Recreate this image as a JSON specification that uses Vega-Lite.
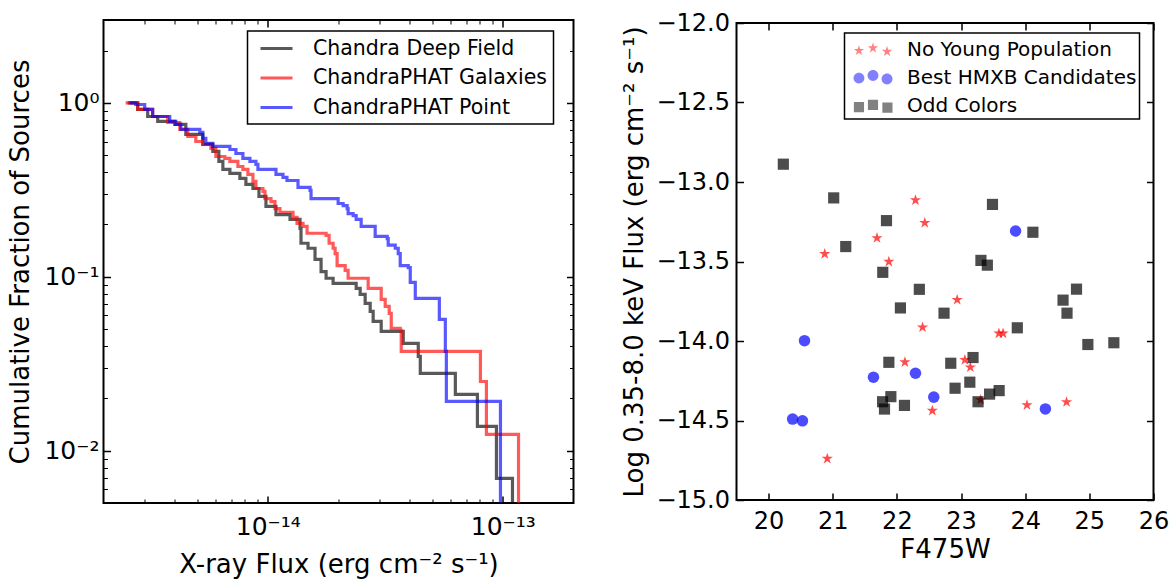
{
  "$schema": "https://vega.github.io/schema/vega-lite/v6.json",
  "background": "white",
  "padding": {"left": 5.5, "top": 10, "right": 4, "bottom": 2},
  "config": {
    "font": "DejaVu Sans",
    "view": {"stroke": "black", "strokeWidth": 2},
    "axis": {
      "domain": false, "grid": false,
      "labelColor": "black", "titleColor": "black", "tickColor": "black",
      "labelFontSize": 24, "titleFontSize": 26, "titleFontWeight": "normal",
      "tickWidth": 1.5, "labelFlush": false, "labelOverlap": false,
      "labelFont": "DejaVu Sans", "titleFont": "DejaVu Sans"
    },
    "legend": {
      "strokeColor": "black", "strokeWidth": 1.5, "fillColor": "white",
      "labelFontSize": 20.5, "labelColor": "black", "labelLimit": 500,
      "labelFont": "DejaVu Sans", "cornerRadius": 0
    }
  },
  "bounds": "flush",
  "spacing": 163,
  "center": true,
  "resolve": {
    "scale": {"color": "independent", "shape": "independent", "size": "independent"},
    "legend": {"color": "independent", "shape": "independent", "size": "independent"}
  },
  "datasets": {
    "curves": [
      {"sample": "Chandra Deep Field", "flux": 2.534e-15, "frac": 1.0},
      {"sample": "Chandra Deep Field", "flux": 2.796e-15, "frac": 0.918},
      {"sample": "Chandra Deep Field", "flux": 3.084e-15, "frac": 0.836},
      {"sample": "Chandra Deep Field", "flux": 3.402e-15, "frac": 0.783},
      {"sample": "Chandra Deep Field", "flux": 4.020e-15, "frac": 0.752},
      {"sample": "Chandra Deep Field", "flux": 4.480e-15, "frac": 0.659},
      {"sample": "Chandra Deep Field", "flux": 5.293e-15, "frac": 0.577},
      {"sample": "Chandra Deep Field", "flux": 5.839e-15, "frac": 0.526},
      {"sample": "Chandra Deep Field", "flux": 6.194e-15, "frac": 0.461},
      {"sample": "Chandra Deep Field", "flux": 6.442e-15, "frac": 0.415},
      {"sample": "Chandra Deep Field", "flux": 6.900e-15, "frac": 0.393},
      {"sample": "Chandra Deep Field", "flux": 7.610e-15, "frac": 0.368},
      {"sample": "Chandra Deep Field", "flux": 8.072e-15, "frac": 0.340},
      {"sample": "Chandra Deep Field", "flux": 8.648e-15, "frac": 0.322},
      {"sample": "Chandra Deep Field", "flux": 9.173e-15, "frac": 0.290},
      {"sample": "Chandra Deep Field", "flux": 9.825e-15, "frac": 0.254},
      {"sample": "Chandra Deep Field", "flux": 1.084e-14, "frac": 0.228},
      {"sample": "Chandra Deep Field", "flux": 1.244e-14, "frac": 0.214},
      {"sample": "Chandra Deep Field", "flux": 1.372e-14, "frac": 0.190},
      {"sample": "Chandra Deep Field", "flux": 1.385e-14, "frac": 0.156},
      {"sample": "Chandra Deep Field", "flux": 1.484e-14, "frac": 0.146},
      {"sample": "Chandra Deep Field", "flux": 1.589e-14, "frac": 0.126},
      {"sample": "Chandra Deep Field", "flux": 1.686e-14, "frac": 0.107},
      {"sample": "Chandra Deep Field", "flux": 1.771e-14, "frac": 0.0981},
      {"sample": "Chandra Deep Field", "flux": 1.897e-14, "frac": 0.0916},
      {"sample": "Chandra Deep Field", "flux": 2.378e-14, "frac": 0.0858},
      {"sample": "Chandra Deep Field", "flux": 2.473e-14, "frac": 0.0792},
      {"sample": "Chandra Deep Field", "flux": 2.597e-14, "frac": 0.0703},
      {"sample": "Chandra Deep Field", "flux": 2.728e-14, "frac": 0.0632},
      {"sample": "Chandra Deep Field", "flux": 2.809e-14, "frac": 0.0554},
      {"sample": "Chandra Deep Field", "flux": 3.039e-14, "frac": 0.0485},
      {"sample": "Chandra Deep Field", "flux": 3.772e-14, "frac": 0.0414},
      {"sample": "Chandra Deep Field", "flux": 4.370e-14, "frac": 0.0349},
      {"sample": "Chandra Deep Field", "flux": 4.457e-14, "frac": 0.0278},
      {"sample": "Chandra Deep Field", "flux": 6.284e-14, "frac": 0.0211},
      {"sample": "Chandra Deep Field", "flux": 7.801e-14, "frac": 0.0138},
      {"sample": "Chandra Deep Field", "flux": 9.400e-14, "frac": 0.00693},
      {"sample": "Chandra Deep Field", "flux": 1.100e-13, "frac": 0.004},
      {"sample": "ChandraPHAT Galaxies", "flux": 2.485e-15, "frac": 1.0},
      {"sample": "ChandraPHAT Galaxies", "flux": 2.796e-15, "frac": 0.918},
      {"sample": "ChandraPHAT Galaxies", "flux": 3.238e-15, "frac": 0.836},
      {"sample": "ChandraPHAT Galaxies", "flux": 3.753e-15, "frac": 0.772},
      {"sample": "ChandraPHAT Galaxies", "flux": 4.224e-15, "frac": 0.704},
      {"sample": "ChandraPHAT Galaxies", "flux": 4.568e-15, "frac": 0.642},
      {"sample": "ChandraPHAT Galaxies", "flux": 4.941e-15, "frac": 0.600},
      {"sample": "ChandraPHAT Galaxies", "flux": 5.293e-15, "frac": 0.577},
      {"sample": "ChandraPHAT Galaxies", "flux": 5.726e-15, "frac": 0.548},
      {"sample": "ChandraPHAT Galaxies", "flux": 6.014e-15, "frac": 0.492},
      {"sample": "ChandraPHAT Galaxies", "flux": 6.569e-15, "frac": 0.480},
      {"sample": "ChandraPHAT Galaxies", "flux": 6.900e-15, "frac": 0.461},
      {"sample": "ChandraPHAT Galaxies", "flux": 7.462e-15, "frac": 0.431},
      {"sample": "ChandraPHAT Galaxies", "flux": 7.837e-15, "frac": 0.415},
      {"sample": "ChandraPHAT Galaxies", "flux": 8.233e-15, "frac": 0.388},
      {"sample": "ChandraPHAT Galaxies", "flux": 8.648e-15, "frac": 0.354},
      {"sample": "ChandraPHAT Galaxies", "flux": 8.905e-15, "frac": 0.322},
      {"sample": "ChandraPHAT Galaxies", "flux": 9.539e-15, "frac": 0.310},
      {"sample": "ChandraPHAT Galaxies", "flux": 9.730e-15, "frac": 0.282},
      {"sample": "ChandraPHAT Galaxies", "flux": 1.032e-14, "frac": 0.271},
      {"sample": "ChandraPHAT Galaxies", "flux": 1.073e-14, "frac": 0.247},
      {"sample": "ChandraPHAT Galaxies", "flux": 1.127e-14, "frac": 0.235},
      {"sample": "ChandraPHAT Galaxies", "flux": 1.281e-14, "frac": 0.220},
      {"sample": "ChandraPHAT Galaxies", "flux": 1.332e-14, "frac": 0.203},
      {"sample": "ChandraPHAT Galaxies", "flux": 1.413e-14, "frac": 0.195},
      {"sample": "ChandraPHAT Galaxies", "flux": 1.470e-14, "frac": 0.178},
      {"sample": "ChandraPHAT Galaxies", "flux": 1.771e-14, "frac": 0.173},
      {"sample": "ChandraPHAT Galaxies", "flux": 1.824e-14, "frac": 0.156},
      {"sample": "ChandraPHAT Galaxies", "flux": 1.897e-14, "frac": 0.146},
      {"sample": "ChandraPHAT Galaxies", "flux": 1.935e-14, "frac": 0.136},
      {"sample": "ChandraPHAT Galaxies", "flux": 1.973e-14, "frac": 0.116},
      {"sample": "ChandraPHAT Galaxies", "flux": 2.135e-14, "frac": 0.109},
      {"sample": "ChandraPHAT Galaxies", "flux": 2.198e-14, "frac": 0.0981},
      {"sample": "ChandraPHAT Galaxies", "flux": 2.675e-14, "frac": 0.0858},
      {"sample": "ChandraPHAT Galaxies", "flux": 3.039e-14, "frac": 0.0741},
      {"sample": "ChandraPHAT Galaxies", "flux": 3.161e-14, "frac": 0.0676},
      {"sample": "ChandraPHAT Galaxies", "flux": 3.287e-14, "frac": 0.0616},
      {"sample": "ChandraPHAT Galaxies", "flux": 3.353e-14, "frac": 0.0505},
      {"sample": "ChandraPHAT Galaxies", "flux": 3.662e-14, "frac": 0.0492},
      {"sample": "ChandraPHAT Galaxies", "flux": 3.698e-14, "frac": 0.0372},
      {"sample": "ChandraPHAT Galaxies", "flux": 8.034e-14, "frac": 0.0250},
      {"sample": "ChandraPHAT Galaxies", "flux": 8.520e-14, "frac": 0.0124},
      {"sample": "ChandraPHAT Galaxies", "flux": 1.167e-13, "frac": 0.004},
      {"sample": "ChandraPHAT Point", "flux": 2.585e-15, "frac": 1.0},
      {"sample": "ChandraPHAT Point", "flux": 2.742e-15, "frac": 0.980},
      {"sample": "ChandraPHAT Point", "flux": 2.995e-15, "frac": 0.918},
      {"sample": "ChandraPHAT Point", "flux": 3.238e-15, "frac": 0.836},
      {"sample": "ChandraPHAT Point", "flux": 3.827e-15, "frac": 0.783},
      {"sample": "ChandraPHAT Point", "flux": 4.060e-15, "frac": 0.752},
      {"sample": "ChandraPHAT Point", "flux": 4.266e-15, "frac": 0.704},
      {"sample": "ChandraPHAT Point", "flux": 5.140e-15, "frac": 0.677},
      {"sample": "ChandraPHAT Point", "flux": 5.293e-15, "frac": 0.625},
      {"sample": "ChandraPHAT Point", "flux": 5.452e-15, "frac": 0.585},
      {"sample": "ChandraPHAT Point", "flux": 5.839e-15, "frac": 0.562},
      {"sample": "ChandraPHAT Point", "flux": 6.900e-15, "frac": 0.540},
      {"sample": "ChandraPHAT Point", "flux": 7.318e-15, "frac": 0.512},
      {"sample": "ChandraPHAT Point", "flux": 7.837e-15, "frac": 0.480},
      {"sample": "ChandraPHAT Point", "flux": 8.397e-15, "frac": 0.461},
      {"sample": "ChandraPHAT Point", "flux": 8.905e-15, "frac": 0.443},
      {"sample": "ChandraPHAT Point", "flux": 9.082e-15, "frac": 0.415},
      {"sample": "ChandraPHAT Point", "flux": 1.084e-14, "frac": 0.388},
      {"sample": "ChandraPHAT Point", "flux": 1.161e-14, "frac": 0.373},
      {"sample": "ChandraPHAT Point", "flux": 1.207e-14, "frac": 0.358},
      {"sample": "ChandraPHAT Point", "flux": 1.345e-14, "frac": 0.327},
      {"sample": "ChandraPHAT Point", "flux": 1.514e-14, "frac": 0.314},
      {"sample": "ChandraPHAT Point", "flux": 1.528e-14, "frac": 0.282},
      {"sample": "ChandraPHAT Point", "flux": 1.993e-14, "frac": 0.264},
      {"sample": "ChandraPHAT Point", "flux": 2.093e-14, "frac": 0.257},
      {"sample": "ChandraPHAT Point", "flux": 2.177e-14, "frac": 0.247},
      {"sample": "ChandraPHAT Point", "flux": 2.198e-14, "frac": 0.231},
      {"sample": "ChandraPHAT Point", "flux": 2.309e-14, "frac": 0.225},
      {"sample": "ChandraPHAT Point", "flux": 2.378e-14, "frac": 0.214},
      {"sample": "ChandraPHAT Point", "flux": 2.497e-14, "frac": 0.195},
      {"sample": "ChandraPHAT Point", "flux": 2.865e-14, "frac": 0.171},
      {"sample": "ChandraPHAT Point", "flux": 3.223e-14, "frac": 0.166},
      {"sample": "ChandraPHAT Point", "flux": 3.255e-14, "frac": 0.152},
      {"sample": "ChandraPHAT Point", "flux": 3.487e-14, "frac": 0.146},
      {"sample": "ChandraPHAT Point", "flux": 3.591e-14, "frac": 0.136},
      {"sample": "ChandraPHAT Point", "flux": 3.662e-14, "frac": 0.116},
      {"sample": "ChandraPHAT Point", "flux": 3.962e-14, "frac": 0.113},
      {"sample": "ChandraPHAT Point", "flux": 4.040e-14, "frac": 0.0929},
      {"sample": "ChandraPHAT Point", "flux": 4.244e-14, "frac": 0.0751},
      {"sample": "ChandraPHAT Point", "flux": 5.372e-14, "frac": 0.0569},
      {"sample": "ChandraPHAT Point", "flux": 5.697e-14, "frac": 0.0372},
      {"sample": "ChandraPHAT Point", "flux": 5.754e-14, "frac": 0.0192},
      {"sample": "ChandraPHAT Point", "flux": 9.777e-14, "frac": 0.004}
    ],
    "points": [
      {"group": "No Young Population", "mag": 22.29, "logflux": -13.114},
      {"group": "No Young Population", "mag": 22.435, "logflux": -13.257},
      {"group": "No Young Population", "mag": 21.69, "logflux": -13.352},
      {"group": "No Young Population", "mag": 20.875, "logflux": -13.452},
      {"group": "No Young Population", "mag": 21.875, "logflux": -13.501},
      {"group": "No Young Population", "mag": 22.94, "logflux": -13.741},
      {"group": "No Young Population", "mag": 22.40, "logflux": -13.914},
      {"group": "No Young Population", "mag": 23.59, "logflux": -13.952},
      {"group": "No Young Population", "mag": 23.655, "logflux": -13.952},
      {"group": "No Young Population", "mag": 22.125, "logflux": -14.133},
      {"group": "No Young Population", "mag": 23.06, "logflux": -14.119},
      {"group": "No Young Population", "mag": 23.145, "logflux": -14.165},
      {"group": "No Young Population", "mag": 23.305, "logflux": -14.37},
      {"group": "No Young Population", "mag": 22.553, "logflux": -14.438},
      {"group": "No Young Population", "mag": 24.028, "logflux": -14.403},
      {"group": "No Young Population", "mag": 24.645, "logflux": -14.384},
      {"group": "No Young Population", "mag": 20.915, "logflux": -14.74},
      {"group": "Best HMXB Candidates", "mag": 23.85, "logflux": -13.308},
      {"group": "Best HMXB Candidates", "mag": 20.56, "logflux": -13.998},
      {"group": "Best HMXB Candidates", "mag": 21.635, "logflux": -14.228},
      {"group": "Best HMXB Candidates", "mag": 22.29, "logflux": -14.203},
      {"group": "Best HMXB Candidates", "mag": 22.575, "logflux": -14.353},
      {"group": "Best HMXB Candidates", "mag": 20.375, "logflux": -14.491},
      {"group": "Best HMXB Candidates", "mag": 20.528, "logflux": -14.502},
      {"group": "Best HMXB Candidates", "mag": 24.315, "logflux": -14.427},
      {"group": "Odd Colors", "mag": 20.23, "logflux": -12.888},
      {"group": "Odd Colors", "mag": 21.015, "logflux": -13.1},
      {"group": "Odd Colors", "mag": 21.203, "logflux": -13.406},
      {"group": "Odd Colors", "mag": 21.838, "logflux": -13.243},
      {"group": "Odd Colors", "mag": 21.78, "logflux": -13.568},
      {"group": "Odd Colors", "mag": 22.35, "logflux": -13.675},
      {"group": "Odd Colors", "mag": 22.055, "logflux": -13.792},
      {"group": "Odd Colors", "mag": 22.735, "logflux": -13.825},
      {"group": "Odd Colors", "mag": 23.49, "logflux": -13.141},
      {"group": "Odd Colors", "mag": 24.12, "logflux": -13.316},
      {"group": "Odd Colors", "mag": 23.31, "logflux": -13.493},
      {"group": "Odd Colors", "mag": 23.41, "logflux": -13.523},
      {"group": "Odd Colors", "mag": 24.59, "logflux": -13.743},
      {"group": "Odd Colors", "mag": 24.80, "logflux": -13.674},
      {"group": "Odd Colors", "mag": 24.652, "logflux": -13.825},
      {"group": "Odd Colors", "mag": 23.877, "logflux": -13.917},
      {"group": "Odd Colors", "mag": 24.977, "logflux": -14.022},
      {"group": "Odd Colors", "mag": 25.382, "logflux": -14.011},
      {"group": "Odd Colors", "mag": 21.875, "logflux": -14.134},
      {"group": "Odd Colors", "mag": 22.84, "logflux": -14.14},
      {"group": "Odd Colors", "mag": 23.187, "logflux": -14.104},
      {"group": "Odd Colors", "mag": 23.137, "logflux": -14.259},
      {"group": "Odd Colors", "mag": 22.907, "logflux": -14.297},
      {"group": "Odd Colors", "mag": 23.445, "logflux": -14.334},
      {"group": "Odd Colors", "mag": 23.594, "logflux": -14.312},
      {"group": "Odd Colors", "mag": 23.265, "logflux": -14.382},
      {"group": "Odd Colors", "mag": 21.906, "logflux": -14.35},
      {"group": "Odd Colors", "mag": 21.777, "logflux": -14.382},
      {"group": "Odd Colors", "mag": 21.807, "logflux": -14.428},
      {"group": "Odd Colors", "mag": 22.118, "logflux": -14.405}
    ]
  },
  "hconcat": [
    {
      "width": 470,
      "height": 483,
      "data": {"name": "curves"},
      "layer": [
        {
          "mark": {"type": "line", "interpolate": "step-after", "strokeWidth": 3.2, "opacity": 0.65, "clip": true},
          "encoding": {
            "x": {
              "field": "flux", "type": "quantitative",
              "scale": {"type": "log", "domain": [2e-15, 2e-13]},
              "axis": {
                "orient": "bottom", "values": [1e-14, 1e-13],
                "labelExpr": "datum.value < 5e-14 ? '10⁻¹⁴' : '10⁻¹³'",
                "labelFontSize": 25,
                "tickSize": -7, "labelPadding": 18,
                "title": "X-ray Flux (erg cm⁻² s⁻¹)", "titlePadding": 12
              }
            },
            "y": {
              "field": "frac", "type": "quantitative",
              "scale": {"type": "log", "domain": [0.005, 3]},
              "axis": {
                "orient": "left", "values": [0.01, 0.1, 1],
                "labelExpr": "datum.value > 0.5 ? '10⁰' : (datum.value > 0.05 ? '10⁻¹' : '10⁻²')",
                "labelFontSize": 25,
                "tickSize": -7, "labelPadding": 11.5,
                "title": "Cumulative Fraction of Sources", "titlePadding": 10.5
              }
            },
            "color": {
              "field": "sample", "type": "nominal",
              "scale": {
                "domain": ["Chandra Deep Field", "ChandraPHAT Galaxies", "ChandraPHAT Point"],
                "range": ["black", "red", "blue"]
              },
              "legend": {
                "title": null, "orient": "none", "legendX": 144, "legendY": 11,
                "symbolType": "M-1.6,0 H1.6", "symbolSize": 400, "symbolStrokeWidth": 3,
                "labelOffset": 25, "padding": 6, "symbolOffset": 11.5, "rowPadding": 7.5
              }
            }
          }
        },
        {
          "mark": {"type": "point", "opacity": 0},
          "encoding": {
            "x": {"field": "flux", "type": "quantitative", "scale": {"type": "log", "domain": [2e-15, 2e-13]},
                  "axis": {"orient": "top", "values": [1e-14, 1e-13], "labels": false, "tickSize": -7, "title": null}},
            "y": {"field": "frac", "type": "quantitative", "scale": {"type": "log", "domain": [0.005, 3]},
                  "axis": {"orient": "right", "values": [0.01, 0.1, 1], "labels": false, "tickSize": -7, "title": null}}
          }
        },
        {
          "mark": {"type": "point", "opacity": 0},
          "encoding": {
            "x": {"field": "flux", "type": "quantitative", "scale": {"type": "log", "domain": [2e-15, 2e-13]},
                  "axis": {"orient": "bottom", "values": [3e-15, 4e-15, 5e-15, 6e-15, 7e-15, 8e-15, 9e-15, 2e-14, 3e-14, 4e-14, 5e-14, 6e-14, 7e-14, 8e-14, 9e-14], "labels": false, "tickSize": -4, "tickWidth": 1, "title": null}},
            "y": {"field": "frac", "type": "quantitative", "scale": {"type": "log", "domain": [0.005, 3]},
                  "axis": {"orient": "left", "values": [0.006, 0.007, 0.008, 0.009, 0.02, 0.03, 0.04, 0.05, 0.06, 0.07, 0.08, 0.09, 0.2, 0.3, 0.4, 0.5, 0.6, 0.7, 0.8, 0.9, 2], "labels": false, "tickSize": -4, "tickWidth": 1, "title": null}}
          }
        },
        {
          "mark": {"type": "point", "opacity": 0},
          "encoding": {
            "x": {"field": "flux", "type": "quantitative", "scale": {"type": "log", "domain": [2e-15, 2e-13]},
                  "axis": {"orient": "top", "values": [3e-15, 4e-15, 5e-15, 6e-15, 7e-15, 8e-15, 9e-15, 2e-14, 3e-14, 4e-14, 5e-14, 6e-14, 7e-14, 8e-14, 9e-14], "labels": false, "tickSize": -4, "tickWidth": 1, "title": null}},
            "y": {"field": "frac", "type": "quantitative", "scale": {"type": "log", "domain": [0.005, 3]},
                  "axis": {"orient": "right", "values": [0.006, 0.007, 0.008, 0.009, 0.02, 0.03, 0.04, 0.05, 0.06, 0.07, 0.08, 0.09, 0.2, 0.3, 0.4, 0.5, 0.6, 0.7, 0.8, 0.9, 2], "labels": false, "tickSize": -4, "tickWidth": 1, "title": null}}
          }
        }
      ],
      "resolve": {"axis": {"x": "independent", "y": "independent"}}
    },
    {
      "width": 417,
      "height": 477,
      "data": {"name": "points"},
      "layer": [
        {
          "mark": {"type": "point", "filled": true, "opacity": 0.7, "strokeWidth": 0},
          "encoding": {
            "x": {
              "field": "mag", "type": "quantitative",
              "scale": {"domain": [19.5, 26], "nice": false, "zero": false},
              "axis": {
                "orient": "bottom", "values": [20, 21, 22, 23, 24, 25, 26], "format": "d",
                "tickSize": -7, "labelPadding": 16, "title": "F475W", "titlePadding": 3
              }
            },
            "y": {
              "field": "logflux", "type": "quantitative",
              "scale": {"domain": [-15, -12], "nice": false, "zero": false},
              "axis": {
                "orient": "left", "values": [-15, -14.5, -14, -13.5, -13, -12.5, -12], "format": ".1f",
                "tickSize": -7, "labelPadding": 14,
                "title": "Log 0.35-8.0 keV Flux (erg cm⁻² s⁻¹)", "titlePadding": 8.5
              }
            },
            "color": {
              "field": "group", "type": "nominal",
              "scale": {"domain": ["No Young Population", "Best HMXB Candidates", "Odd Colors"], "range": ["red", "blue", "black"]},
              "legend": null
            },
            "shape": {
              "field": "group", "type": "nominal",
              "scale": {"domain": ["No Young Population", "Best HMXB Candidates", "Odd Colors"],
                        "range": ["M0,-1 L0.225,-0.309 L0.951,-0.309 L0.363,0.118 L0.588,0.809 L0,0.382 L-0.588,0.809 L-0.363,0.118 L-0.951,-0.309 L-0.225,-0.309 Z", "circle", "square"]},
              "legend": null
            },
            "size": {
              "field": "group", "type": "nominal",
              "scale": {"domain": ["No Young Population", "Best HMXB Candidates", "Odd Colors"], "range": [140, 125, 121]},
              "legend": null
            }
          }
        },
        {
          "transform": [{"filter": "datum.mag > 100"}],
          "mark": {"type": "point", "filled": true, "opacity": 0.7, "strokeWidth": 0, "size": 676},
          "encoding": {
            "color": {
              "field": "group", "type": "nominal",
              "scale": {"domain": ["No Young Population", "Best HMXB Candidates", "Odd Colors"], "range": ["red", "blue", "black"]},
              "legend": {
                "title": null, "orient": "none", "legendX": 108, "legendY": 10, "padding": 3, "symbolOffset": 11.5,
                "symbolSize": 676, "labelOffset": 20, "rowPadding": 3.5, "symbolOpacity": 0.7, "labelFontSize": 20
              }
            },
            "shape": {
              "field": "group", "type": "nominal",
              "scale": {"domain": ["No Young Population", "Best HMXB Candidates", "Odd Colors"],
                        "range": [
                          "M-1.08,-0.375 L-0.9855,-0.0855 L-0.681,-0.0855 L-0.927,0.0945 L-0.8325,0.3855 L-1.08,0.2055 L-1.3275,0.3855 L-1.233,0.0945 L-1.479,-0.0855 L-1.1745,-0.0855 Z M0,-0.57 L0.0945,-0.2805 L0.399,-0.2805 L0.153,-0.1005 L0.2475,0.1905 L0,0.0105 L-0.2475,0.1905 L-0.153,-0.1005 L-0.399,-0.2805 L-0.0945,-0.2805 Z M1.08,-0.3 L1.1745,-0.0105 L1.479,-0.0105 L1.233,0.1695 L1.3275,0.4605 L1.08,0.2805 L0.8325,0.4605 L0.927,0.1695 L0.681,-0.0105 L0.9855,-0.0105 Z",
                          "M-1.5,0.045 A0.42,0.42 0 1,0 -0.66,0.045 A0.42,0.42 0 1,0 -1.5,0.045 Z M-0.42,-0.15 A0.42,0.42 0 1,0 0.42,-0.15 A0.42,0.42 0 1,0 -0.42,-0.15 Z M0.66,0.12 A0.42,0.42 0 1,0 1.5,0.12 A0.42,0.42 0 1,0 0.66,0.12 Z",
                          "M-1.47,-0.3 H-0.69 V0.48 H-1.47 Z M-0.39,-0.48 H0.39 V0.3 H-0.39 Z M0.72,-0.27 H1.5 V0.51 H0.72 Z"
                        ]},
              "legend": {"title": null}
            }
          }
        },
        {
          "mark": {"type": "point", "opacity": 0},
          "encoding": {
            "x": {"field": "mag", "type": "quantitative", "scale": {"domain": [19.5, 26], "nice": false, "zero": false},
                  "axis": {"orient": "top", "values": [20, 21, 22, 23, 24, 25, 26], "labels": false, "tickSize": -7, "title": null}},
            "y": {"field": "logflux", "type": "quantitative", "scale": {"domain": [-15, -12], "nice": false, "zero": false},
                  "axis": {"orient": "right", "values": [-15, -14.5, -14, -13.5, -13, -12.5, -12], "labels": false, "tickSize": -7, "title": null}}
          }
        }
      ],
      "resolve": {
        "axis": {"x": "independent", "y": "independent"},
        "scale": {"color": "independent", "shape": "independent", "size": "independent"},
        "legend": {"color": "independent", "shape": "independent"}
      }
    }
  ]
}
